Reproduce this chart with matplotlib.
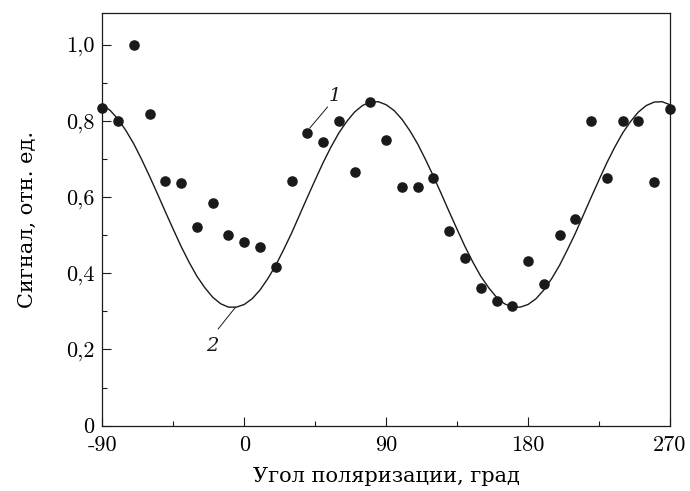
import matplotlib
matplotlib.use("Agg")
import matplotlib.pyplot as plt
from matplotlib.ticker import FixedLocator

# Measured points (angle, signal)
angles = [-90, -80, -70, -60, -50, -40, -30, -20, -10, 0, 10, 20, 30, 40, 50, 60, 70, 80, 90,
          100, 110, 120, 130, 140, 150, 160, 170, 180, 190, 200, 210, 220, 230, 240, 250, 260, 270]
signal = [0.833, 0.800, 1.000, 0.817, 0.641, 0.636, 0.522, 0.583, 0.500, 0.483, 0.470, 0.416,
          0.641, 0.768, 0.745, 0.799, 0.666, 0.849, 0.749, 0.625, 0.625, 0.649, 0.512, 0.441,
          0.361, 0.326, 0.313, 0.433, 0.372, 0.500, 0.543, 0.800, 0.649, 0.800, 0.800, 0.640, 0.831]

# Fitted curve (every 5 degrees)
curve_x = list(range(-90, 271, 5))
curve_period = [0.842, 0.827, 0.804, 0.774, 0.739, 0.698, 0.654, 0.608, 0.561, 0.515, 0.470, 0.429,
                0.392, 0.362, 0.337, 0.320, 0.311, 0.311, 0.318, 0.333, 0.356, 0.386, 0.421, 0.462,
                0.505, 0.552, 0.599, 0.645, 0.690, 0.731, 0.768, 0.798, 0.823, 0.840, 0.849, 0.850]
curve_y = curve_period + curve_period + [0.842]

xticks = [-90, 0, 90, 180, 270]
xtick_labels = ["-90", "0", "90", "180", "270"]
yticks = [0, 0.2, 0.4, 0.6, 0.8, 1.0]
ytick_labels = ["0", "0,2", "0,4", "0,6", "0,8", "1,0"]

xlabel = "Угол поляризации, град"
ylabel = "Сигнал, отн. ед."

tick_font = ["cmr10", "Liberation Serif", "DejaVu Serif"]
text_font = ["DejaVu Serif"]

fig = plt.figure(figsize=(6.9, 4.91), dpi=100)
ax = fig.add_axes([0.1483, 0.133, 0.971 - 0.1483, 0.973 - 0.133])

ink = "#1a1a1a"
ax.plot(curve_x, curve_y, color=ink, lw=1.0, zorder=2)
ax.plot(angles, signal, "o", color=ink, ms=6.6, mec=ink, zorder=3, clip_on=False)

ax.set_xlim(-90, 270)
ax.set_ylim(0, 1.082)

ax.set_xticks(xticks)
ax.set_xticklabels(xtick_labels, fontfamily=tick_font, fontsize=16)
ax.set_yticks(yticks)
ax.set_yticklabels(ytick_labels, fontfamily=tick_font, fontsize=16)
ax.xaxis.set_minor_locator(FixedLocator([-45, 45, 135, 225]))
ax.yaxis.set_minor_locator(FixedLocator([0.1, 0.3, 0.5, 0.7, 0.9]))
ax.tick_params(which="major", direction="in", length=6.5, width=0.8, color=ink,
               top=False, right=False)
ax.tick_params(which="minor", direction="in", length=3.5, width=0.8, color=ink,
               top=False, right=False)
ax.tick_params(axis="x", which="major", pad=7)
ax.tick_params(axis="y", which="major", pad=5.5)
for s in ax.spines.values():
    s.set_linewidth(0.9)
    s.set_color(ink)

ax.set_xlabel(xlabel, fontfamily=text_font, fontsize=15, labelpad=9)
ax.set_ylabel(ylabel, fontfamily=text_font, fontsize=15, labelpad=21)

# curve labels with leader lines
ax.plot([52.8, 41.6], [0.836, 0.781], color=ink, lw=0.7)
ax.text(57.5, 0.864, "1", fontfamily=["DejaVu Serif"], style="italic", fontsize=14,
        ha="center", va="center", color=ink)
ax.plot([-16.5, -5.5], [0.254, 0.311], color=ink, lw=0.7)
ax.text(-20.0, 0.209, "2", fontfamily=["DejaVu Serif"], style="italic", fontsize=14,
        ha="center", va="center", color=ink)

fig.savefig("out.png", dpi=100)
